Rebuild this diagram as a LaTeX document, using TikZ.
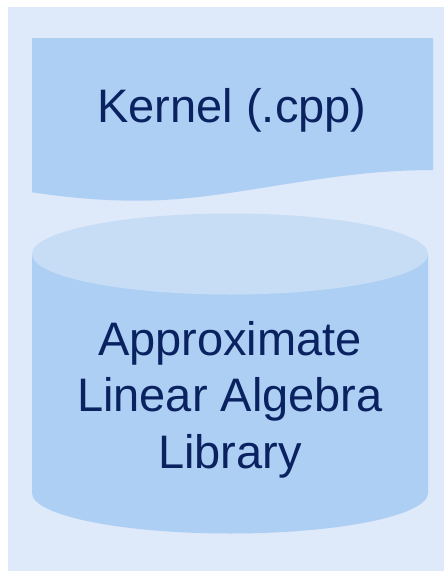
\documentclass[tikz,border=0pt]{standalone}
\usepackage{fontspec}
\setmainfont{Liberation Sans}
\definecolor{panel}{HTML}{DEE9F9}
\definecolor{shapefill}{HTML}{ADCFF4}
\definecolor{cyltop}{HTML}{C7DDF6}
\definecolor{labeltext}{HTML}{0A2260}
\tikzset{
  label text/.style={text=labeltext, inner sep=0pt, align=center,
    font=\fontsize{47}{56.5}\selectfont},
}
\begin{document}
\begin{tikzpicture}[x=1pt, y=-1pt]
  \useasboundingbox (0,0) rectangle (444,571);
  % background panel
  \fill[panel] (8,7) rectangle (444,571);
  % document shape with wavy lower edge
  \fill[shapefill] (32,38) -- (433,38) -- (433,170)
    .. controls (320,170) and (230,201) .. (137,200.7)
    .. controls (105,200.7) and (70,198) .. (32,192.3) -- cycle;
  % cylinder body
  \fill[shapefill] (32,254) -- (32,493)
    arc[start angle=180, end angle=0, x radius=198, y radius=40.5]
    -- (428,254) -- cycle;
  % cylinder top
  \fill[cyltop] (230,254) ellipse[x radius=198, y radius=40.5];
  % labels (base anchor of a multi-line node sits on its last line)
  \node[label text, anchor=base] (kernel) at (232,122) {Kernel (.cpp)};
  \node[label text, anchor=base] (library) at (230,468)
    {Approximate\\Linear Algebra\\Library};
\end{tikzpicture}
\end{document}
